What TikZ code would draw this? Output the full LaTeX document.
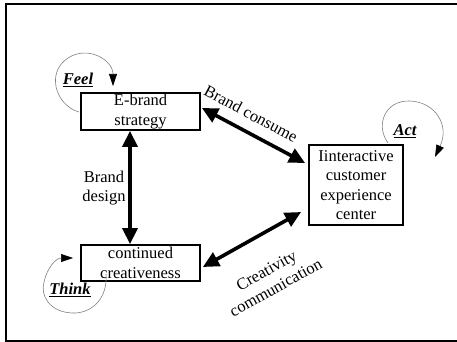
\documentclass[tikz,border=0pt]{standalone}
\usepackage{fontspec}
\setmainfont{Liberation Serif}
\usetikzlibrary{arrows.meta,calc}
\begin{document}
\begin{tikzpicture}[x=1pt,y=-1pt,
  every node/.style={font=\fontsize{16.5}{19.5}\selectfont},
  box/.style={draw,line width=1.8pt,align=center,inner sep=0pt},
  big/.style={line width=3.6pt,{Triangle[length=16pt,width=15pt]}-{Triangle[length=16pt,width=15pt]}},
  loop/.style={draw=gray,line width=0.6pt,-{Triangle[length=12pt,width=8pt,color=black]}},
  lbl/.style={align=center,inner sep=0pt},
  act/.style={inner sep=0pt,font=\fontsize{16.5}{19.5}\selectfont\bfseries\itshape}]
\useasboundingbox (0,0) rectangle (457,342);
\draw[line width=2pt] (470,4.5) -- (6,4.5) -- (6,340.5) -- (470,340.5);
\node[box,minimum width=119pt,minimum height=37pt] (es) at (140.5,111.5) {E-brand\\strategy};
\node[box,minimum width=94pt,minimum height=80pt] (ic) at (356,185) {Iinteractive\\customer\\experience\\center};
\node[box,minimum width=119pt,minimum height=36pt] (cc) at (140.5,263) {continued\\creativeness};
\draw[big] ($(es.south)+(-10.5,0)$) -- ($(cc.north)+(-10.5,0)$);
\draw[big] ($(es.east)+(1,-3.5)$) -- ($(ic.west)+(-3,-22)$);
\draw[big] ($(cc.east)+(2,4)$) -- ($(ic.west)+(-7,27)$);
\node[lbl] (bd) at (104,188) {Brand\\design};
\node[lbl,rotate=-28] (bc) at (251,114) {Brand consume};
\node[lbl,rotate=29] (cm) at (271,279) {Creativity\\communication};
\coordinate (f0) at (79,112);
\coordinate (f1) at (113,86);
\draw[loop] (f0) .. controls (55,105) and (46,72) .. (68,58) .. controls (88,45) and (113,60) .. (f1);
\coordinate (a0) at (388,143);
\coordinate (a1) at (435,157);
\draw[loop] (a0) .. controls (375,125) and (385,100) .. (410,101) .. controls (435,102) and (450,125) .. (a1);
\coordinate (t0) at (106,274);
\coordinate (t1) at (73,258);
\draw[loop] (t0) .. controls (108,300) and (90,314) .. (72,313) .. controls (50,312) and (40,296) .. (44,282) .. controls (47,268) and (56,258) .. (t1);
\node[act] (feel) at (78,80) {\underline{Feel}};
\node[act] (actl) at (405,131) {\underline{Act}};
\node[act] (think) at (70,290) {\underline{Think}};
\end{tikzpicture}
\end{document}
